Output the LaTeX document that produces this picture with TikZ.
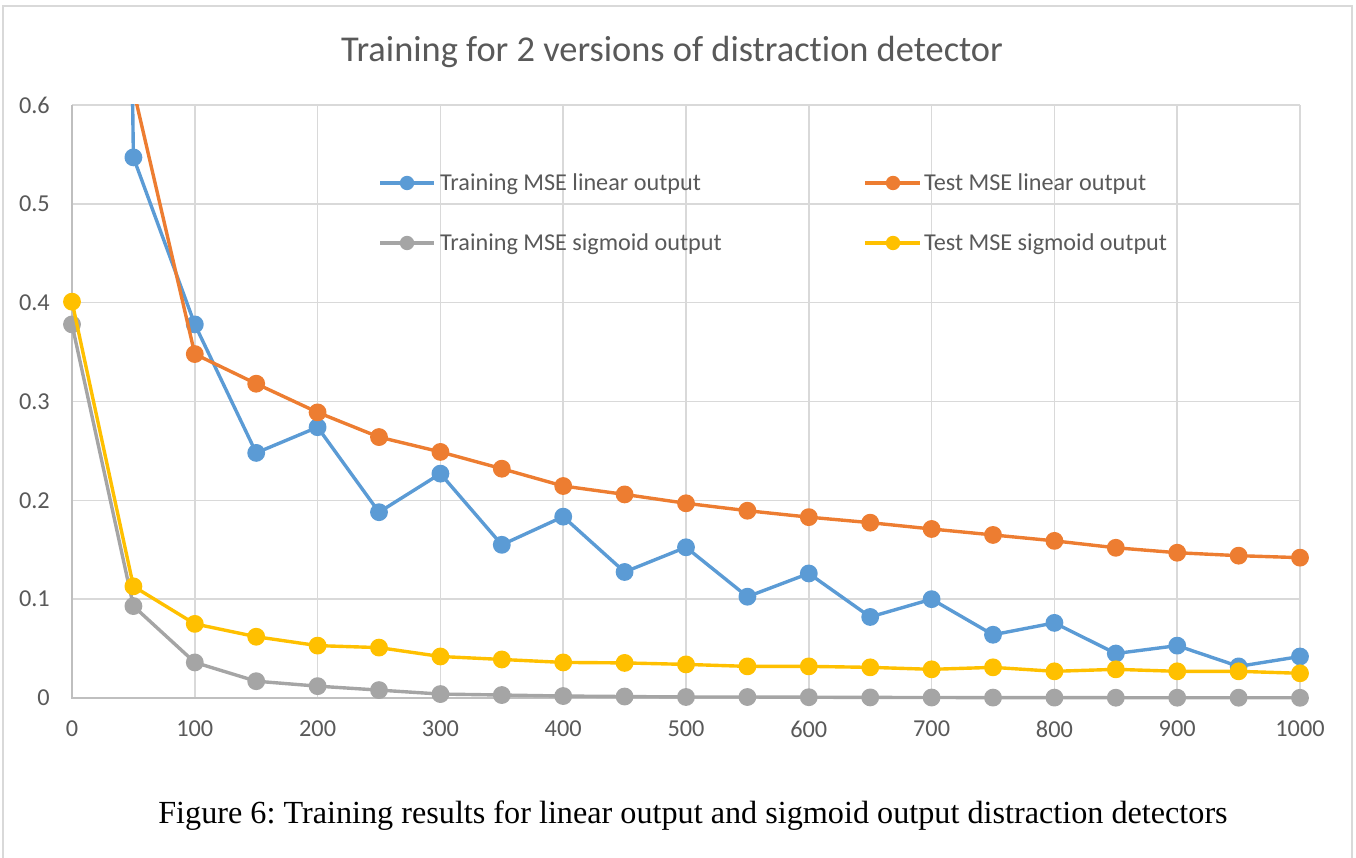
\documentclass[tikz,border=0pt]{standalone}
\usepackage{fontspec}
\setmainfont{Carlito}[Ligatures=NoCommon]
\newfontfamily\captionserif{Liberation Serif}

\definecolor{serBlue}{HTML}{5B9BD5}
\definecolor{serOrange}{HTML}{ED7D31}
\definecolor{serGray}{HTML}{A5A5A5}
\definecolor{serYellow}{HTML}{FFC000}
\definecolor{gridGray}{HTML}{D9D9D9}
\definecolor{axisGray}{HTML}{BFBFBF}
\definecolor{labelGray}{HTML}{595959}

\tikzset{
  chartframe/.style={draw=gridGray, line width=1.5pt},
  gridline/.style={draw=gridGray, line width=1.6pt},
  axisline/.style={draw=axisGray, line width=1.6pt},
  ticklabel/.style={text=labelGray, font=\fontsize{24.3}{28}\selectfont, inner sep=0pt},
  legendtext/.style={text=labelGray, font=\fontsize{24.2}{28}\selectfont, inner sep=0pt, anchor=base west},
  charttitle/.style={text=labelGray, font=\fontsize{36.4}{42}\selectfont, inner sep=0pt},
  series/.style={draw=#1, line width=3.4pt, line join=round,
    mark=*, mark size=7.2pt, mark options={draw=none, fill=#1}},
  legline/.style={draw=#1, line width=3.4pt},
  legdot/.style={fill=#1},
}

\begin{document}
\frenchspacing
\begin{tikzpicture}[x=1pt, y=-1pt]
  \useasboundingbox (0,0) rectangle (1356,858);

  % outer chart frame (bottom edge runs off the page)
  \draw[chartframe] (3,858) -- (3,6) -- (1352,6) -- (1352,858);

  % title
  \node[charttitle, anchor=base] (title) at (672,62) {Training for 2 versions of distraction detector};

  % plot area: x from 0 to 1000, y from 0 to 0.6
  \begin{scope}[shift={(72,698)}, x=1.228pt, y=988.33pt]
    \foreach \v in {0.1,0.2,0.3,0.4,0.5,0.6}
      \draw[gridline] (0,\v) -- (1000,\v);
    \foreach \u in {100,200,...,1000}
      \draw[gridline] (\u,0) -- (\u,0.6);
    \draw[axisline] (0,0.6) -- (0,0) -- (1000,0);

    % y tick labels
    \foreach \v/\t in {0/0,0.1/0.1,0.2/0.2,0.3/0.3,0.4/0.4,0.5/0.5,0.6/0.6}
      \node[ticklabel, anchor=east] (ylab\t) at ([xshift=-22pt]0,\v) {\t};
    % x tick labels
    \foreach \u in {0,100,...,1000}
      \node[ticklabel, anchor=center] (xlab\u) at ([yshift=-31pt]\u,0) {\u};

    \begin{scope}
      \clip (-100,-0.2) rectangle (1100,0.6);
      % Training MSE linear output
      \draw[series=serBlue] plot coordinates {
        (0,5) (50,0.547) (100,0.378) (150,0.248) (200,0.274) (250,0.188)
        (300,0.227) (350,0.155) (400,0.1835) (450,0.1275) (500,0.1525)
        (550,0.1025) (600,0.126) (650,0.082) (700,0.100) (750,0.064)
        (800,0.076) (850,0.045) (900,0.053) (950,0.032) (1000,0.042)};
      % Test MSE linear output
      \draw[series=serOrange] plot coordinates {
        (0,5) (50,0.6155) (100,0.348) (150,0.318) (200,0.289) (250,0.264)
        (300,0.249) (350,0.232) (400,0.2145) (450,0.206) (500,0.197)
        (550,0.1895) (600,0.183) (650,0.1774) (700,0.171) (750,0.165)
        (800,0.159) (850,0.152) (900,0.147) (950,0.144) (1000,0.142)};
      % Training MSE sigmoid output
      \draw[series=serGray] plot coordinates {
        (0,0.378) (50,0.093) (100,0.036) (150,0.017) (200,0.012) (250,0.008)
        (300,0.004) (350,0.003) (400,0.002) (450,0.0015) (500,0.001)
        (550,0.001) (600,0.0008) (650,0.0006) (700,0.0005) (750,0.0004)
        (800,0.0004) (850,0.0003) (900,0.0003) (950,0.0003) (1000,0.0002)};
      % Test MSE sigmoid output
      \draw[series=serYellow] plot coordinates {
        (0,0.401) (50,0.113) (100,0.075) (150,0.062) (200,0.053) (250,0.051)
        (300,0.042) (350,0.039) (400,0.036) (450,0.0355) (500,0.034)
        (550,0.032) (600,0.032) (650,0.031) (700,0.029) (750,0.031)
        (800,0.027) (850,0.029) (900,0.027) (950,0.027) (1000,0.025)};
    \end{scope}
  \end{scope}

  % legend
  \coordinate (legAa) at (380,183); \coordinate (legAb) at (434,183); \coordinate (legAm) at (407,183);
  \coordinate (legBa) at (865,183); \coordinate (legBb) at (920,183); \coordinate (legBm) at (893,183);
  \coordinate (legCa) at (380,243); \coordinate (legCb) at (434,243); \coordinate (legCm) at (407,243);
  \coordinate (legDa) at (865,243); \coordinate (legDb) at (920,243); \coordinate (legDm) at (893,243);

  \draw[legline=serBlue] (legAa) -- (legAb);   \fill[legdot=serBlue] (legAm) circle (7.2pt);
  \draw[legline=serOrange] (legBa) -- (legBb); \fill[legdot=serOrange] (legBm) circle (7.2pt);
  \draw[legline=serGray] (legCa) -- (legCb);   \fill[legdot=serGray] (legCm) circle (7.2pt);
  \draw[legline=serYellow] (legDa) -- (legDb); \fill[legdot=serYellow] (legDm) circle (7.2pt);

  \node[legendtext] (legA) at (440,191) {Training MSE linear output};
  \node[legendtext] (legB) at (924,191) {Test MSE linear output};
  \node[legendtext] (legC) at (440,251) {Training MSE sigmoid output};
  \node[legendtext] (legD) at (924,251) {Test MSE sigmoid output};

  % caption
  \node[anchor=base, inner sep=0pt, font=\captionserif\fontsize{32.2}{38}\selectfont] (caption)
    at (693,823) {Figure 6: Training results for linear output and sigmoid output distraction detectors};
\end{tikzpicture}
\end{document}
